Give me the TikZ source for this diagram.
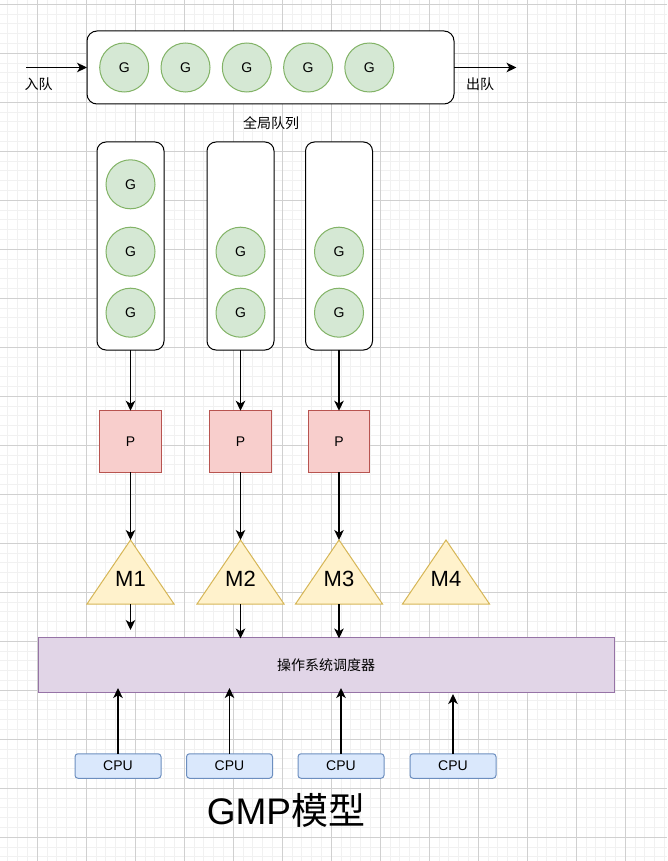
\documentclass[tikz,border=0pt]{standalone}
\usepackage{fontspec}
\setmainfont{Liberation Sans}
\newfontfamily\cjk{Noto Sans CJK SC}
\usetikzlibrary{arrows.meta}
\definecolor{gfill}{HTML}{D5E8D4}\definecolor{gline}{HTML}{82B366}
\definecolor{pfill}{HTML}{F8CECC}\definecolor{pline}{HTML}{B85450}
\definecolor{mfill}{HTML}{FFF2CC}\definecolor{mline}{HTML}{D6B656}
\definecolor{sfill}{HTML}{E1D5E7}\definecolor{sline}{HTML}{9673A6}
\definecolor{cfill}{HTML}{DAE8FC}\definecolor{cline}{HTML}{6C8EBF}
\definecolor{gridminor}{HTML}{F1F1F1}\definecolor{gridmajor}{HTML}{D0D0D0}
\begin{document}
\begin{tikzpicture}[x=1pt,y=-1pt,
  small/.style={font=\fontsize{14}{16}\selectfont},
  gnode/.style={circle, draw=gline, fill=gfill, line width=1pt, minimum size=49pt, inner sep=0pt, outer sep=0pt, small},
  qbox/.style={draw=black, fill=white, line width=1pt, rounded corners=9pt, inner sep=0pt, outer sep=0pt},
  pnode/.style={draw=pline, fill=pfill, line width=1pt, minimum width=61.5pt, minimum height=61.5pt, inner sep=0pt, outer sep=0pt, small},
  mtri/.style={draw=mline, fill=mfill, line width=1pt, line join=miter},
  mlbl/.style={font=\fontsize{22}{24}\selectfont, inner sep=0pt},
  snode/.style={draw=sline, fill=sfill, line width=1pt, minimum width=576pt, minimum height=55.5pt, inner sep=0pt, outer sep=0pt, small},
  cpunode/.style={draw=cline, fill=cfill, line width=1pt, rounded corners=3pt, minimum width=86pt, minimum height=24.5pt, inner sep=0pt, outer sep=0pt, small},
  lbl/.style={small, inner sep=0pt},
  arr/.style={-{Stealth[length=10pt,width=9.5pt,inset=2.8pt]}, line width=1.2pt, black}
]
\useasboundingbox (0,0) rectangle (667,861);
\fill[white] (0,0) rectangle (667,861);
% grid
\foreach \i in {0,...,67} \draw[gridminor, line width=1pt] ({7.9+9.8*\i},0) -- ++(0,861);
\foreach \j in {0,...,87} \draw[gridminor, line width=1pt] (0,{4.3+9.8*\j}) -- ++(667,0);
\foreach \i in {0,...,12} \draw[gridmajor, line width=1pt] ({37.3+49*\i},0) -- ++(0,861);
\foreach \j in {0,...,17} \draw[gridmajor, line width=1pt] (0,{4.3+49*\j}) -- ++(667,0);

% global queue
\node[qbox, rounded corners=10pt, minimum width=367pt, minimum height=73pt] (gq) at (270.5,67.5) {};
\foreach \k/\x in {1/124.2,2/185.5,3/246.8,4/308.1,5/369.3}
  \node[gnode] (gg\k) at (\x,67.5) {G};
\coordinate (inS) at (26,67.5);
\coordinate (outE) at (516.5,67.5);
\draw[arr] (inS) -- (gq.west);
\draw[arr] (gq.east) -- (outE);
\node[lbl] (inl) at (38.5,84.5) {\cjk 入队};
\node[lbl] (outl) at (480,84.5) {\cjk 出队};
\node[lbl] (gql) at (271,123) {\cjk 全局队列};

% local queues
\node[qbox, minimum width=67pt, minimum height=208pt] (lq1) at (130.5,246) {};
\node[qbox, minimum width=67pt, minimum height=208pt] (lq2) at (240.5,246) {};
\node[qbox, minimum width=67pt, minimum height=208pt] (lq3) at (339,246) {};
\node[gnode] (l1a) at (130.5,184.3) {G};
\node[gnode] (l1b) at (130.5,251.7) {G};
\node[gnode] (l1c) at (130.5,312.7) {G};
\node[gnode] (l2a) at (240.5,251.7) {G};
\node[gnode] (l2b) at (240.5,312.7) {G};
\node[gnode] (l3a) at (339,251.7) {G};
\node[gnode] (l3b) at (339,312.7) {G};

% P
\node[pnode] (p1) at (130.5,441.5) {P};
\node[pnode] (p2) at (240.5,441.5) {P};
\node[pnode] (p3) at (339,441.5) {P};
\draw[arr] (lq1.south) -- (p1.north);
\draw[arr] (lq2.south) -- (p2.north);
\draw[arr] (lq3.south) -- (p3.north);

% M triangles
\foreach \k/\x in {1/130.5,2/240.5,3/339,4/446}{
  \coordinate (mt\k) at (\x,540);
  \coordinate (mb\k) at (\x,604);
  \draw[mtri] (mt\k) -- ++(-43.5,64) -- ++(87,0) -- cycle;
  \node[mlbl] (m\k) at (\x,579) {M\k};
}
\draw[arr] (p1.south) -- (mt1);
\draw[arr] (p2.south) -- (mt2);
\draw[arr] (p3.south) -- (mt3);

% scheduler
\node[snode] (sched) at (326,664.75) {\cjk 操作系统调度器};
\coordinate (e1) at (130.5,630);
\coordinate (e2) at (240.5,638.5);
\coordinate (e3) at (339,638.5);
\draw[arr] (mb1) -- (e1);
\draw[arr] (mb2) -- (e2);
\draw[arr] (mb3) -- (e3);

% CPUs
\node[cpunode] (c1) at (118,766) {CPU};
\node[cpunode] (c2) at (229.5,766) {CPU};
\node[cpunode] (c3) at (341,766) {CPU};
\node[cpunode] (c4) at (453,766) {CPU};
\coordinate (f1) at (118,688);
\coordinate (f2) at (229.5,688);
\coordinate (f3) at (341,688);
\coordinate (f4) at (453,694);
\draw[arr] (c1.north) -- (f1);
\draw[arr] (c2.north) -- (f2);
\draw[arr] (c3.north) -- (f3);
\draw[arr] (c4.north) -- (f4);

% title
\node[font=\fontsize{37}{40}\selectfont, inner sep=0pt] (title) at (286,810) {GMP{\cjk 模型}};
\end{tikzpicture}
\end{document}
